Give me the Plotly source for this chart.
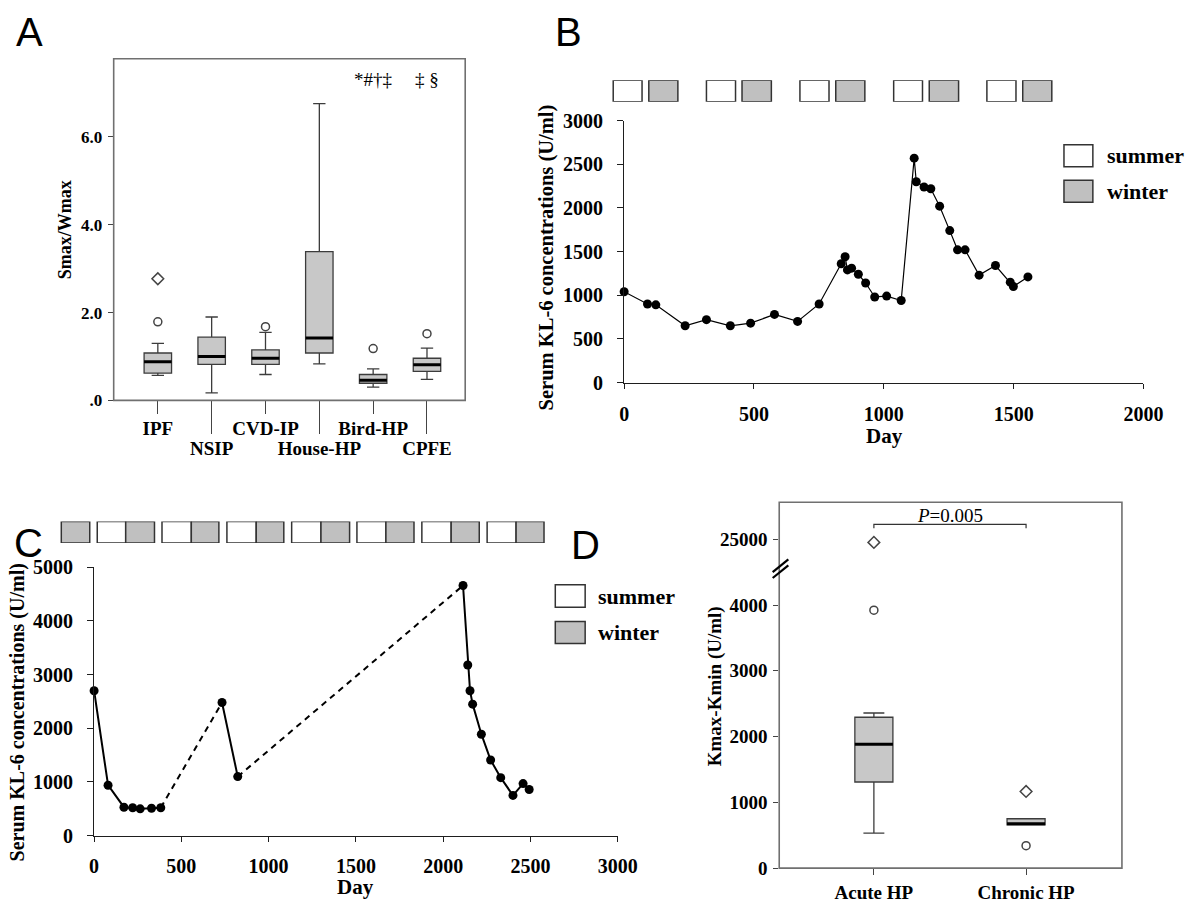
import plotly.graph_objects as go

W, H = 1200, 914
SERIF = "Liberation Serif, Times New Roman, serif"
SANS = "Liberation Sans, Arial, sans-serif"

# ---------------- Panel A data ----------------
A_groups = ["IPF", "NSIP", "CVD-IP", "House-HP", "Bird-HP", "CPFE"]
A_lower = [0.57, 0.17, 0.59, 0.83, 0.30, 0.48]
A_q1 = [0.62, 0.82, 0.82, 1.08, 0.39, 0.66]
A_median = [0.88, 1.00, 0.96, 1.42, 0.46, 0.81]
A_q3 = [1.08, 1.44, 1.15, 3.39, 0.59, 0.96]
A_upper = [1.30, 1.90, 1.55, 6.76, 0.72, 1.19]
A_circle_groups = ["IPF", "CVD-IP", "Bird-HP", "CPFE"]
A_circle_values = [1.79, 1.68, 1.18, 1.52]
A_diamond_groups = ["IPF"]
A_diamond_values = [2.77]
A_sig_groups = ["Bird-HP", "CPFE"]
A_sig_text = ["*#†‡", "‡ §"]
A_ytick_vals = [0, 2, 4, 6]
A_ytick_text = [".0", "2.0", "4.0", "6.0"]

# ---------------- Panel B data ----------------
B_day = [0, 90, 122, 235, 317, 409, 487, 579, 668, 751, 836, 851, 860, 876, 902,
         930, 965, 1011, 1067, 1117, 1125, 1155, 1181, 1215, 1254, 1284, 1313,
         1367, 1430, 1487, 1499, 1555]
B_kl6 = [1040, 900, 890, 650, 720, 650, 680, 780, 700, 900, 1360, 1440, 1290, 1310,
         1240, 1140, 980, 990, 940, 2570, 2300, 2240, 2220, 2020, 1740, 1520, 1520,
         1230, 1340, 1150, 1100, 1210]
B_summer_start = [-42, 317, 677, 1038, 1397]
B_summer_end = [69, 429, 789, 1149, 1509]
B_winter_start = [95, 454, 815, 1175, 1535]
B_winter_end = [207, 567, 927, 1288, 1647]
B_xticks = [0, 500, 1000, 1500, 2000]
B_yticks = [0, 500, 1000, 1500, 2000, 2500, 3000]

# ---------------- Panel C data ----------------
C_day = [0, 80, 171, 221, 264, 329, 382, 733, 823, 2114, 2141, 2154, 2169, 2219,
         2272, 2330, 2400, 2458, 2493]
C_kl6 = [2700, 940, 530, 520, 500, 510, 520, 2480, 1100, 4660, 3180, 2700, 2450,
         1890, 1410, 1080, 750, 970, 860]
C_period = [1, 1, 1, 1, 1, 1, 1, 2, 2, 3, 3, 3, 3, 3, 3, 3, 3, 3, 3]
C_summer_start = [18, 389, 761, 1132, 1506, 1878, 2252]
C_summer_end = [181, 557, 929, 1300, 1672, 2046, 2418]
C_winter_start = [-188, 181, 557, 929, 1300, 1672, 2046, 2418]
C_winter_end = [-25, 346, 715, 1087, 1464, 1833, 2207, 2578]
C_xticks = [0, 500, 1000, 1500, 2000, 2500, 3000]
C_yticks = [0, 1000, 2000, 3000, 4000, 5000]

# ---------------- Panel D data ----------------
D_groups = ["Acute HP", "Chronic HP"]
D_lower = [534, 657]
D_q1 = [1310, 657]
D_median = [1884, 677]
D_q3 = [2294, 751]
D_upper = [2359, 751]
D_circle_groups = ["Acute HP", "Chronic HP"]
D_circle_values = [3921, 341]
D_diamond_groups = ["Acute HP", "Chronic HP"]
D_diamond_values = [24950, 1166]
D_lower_ticks = [0, 1000, 2000, 3000, 4000]
D_upper_ticks = [25000]
D_p_text = "<i>P</i>=0.005"


def fx(p):
    return p / W


def fy(p):
    return 1 - p / H


BOX_FILL = "#c8c8c8"
BOX_LINE = "#3c3c3c"
FRAME = "#707070"
AXIS = "#1e1e1e"

fig = go.Figure()

# ======== Panel A ========
A_pos = list(range(len(A_groups)))
A_w = 0.51
fig.add_trace(go.Box(x=A_pos, q1=A_q1, median=A_median, q3=A_q3,
                     lowerfence=A_lower, upperfence=A_upper, orientation="v",
                     width=A_w, whiskerwidth=0.45, fillcolor=BOX_FILL,
                     line=dict(color=BOX_LINE, width=1.3), boxpoints=False,
                     xaxis="x", yaxis="y", showlegend=False, hoverinfo="skip"))
mx, my = [], []
for i, m in zip(A_pos, A_median):
    mx += [i - A_w / 2, i + A_w / 2, None]
    my += [m, m, None]
fig.add_trace(go.Scatter(x=mx, y=my, mode="lines", line=dict(color="black", width=3),
                         xaxis="x", yaxis="y", showlegend=False, hoverinfo="skip"))
# invisible carrier so the second (staggered) category axis is drawn
fig.add_trace(go.Scatter(x=A_pos[1::2], y=A_median[1::2], mode="markers",
                         marker=dict(opacity=0), xaxis="x5", yaxis="y",
                         showlegend=False, hoverinfo="skip"))
fig.add_trace(go.Scatter(x=[A_groups.index(g) for g in A_circle_groups], y=A_circle_values,
                         mode="markers", marker=dict(symbol="circle-open", size=8,
                                                     line=dict(color="#444", width=1.5), color="#444"),
                         xaxis="x", yaxis="y", showlegend=False, hoverinfo="skip"))
fig.add_trace(go.Scatter(x=[A_groups.index(g) for g in A_diamond_groups], y=A_diamond_values,
                         mode="markers", marker=dict(symbol="diamond-open", size=9,
                                                     line=dict(color="#444", width=1.5), color="#444"),
                         xaxis="x", yaxis="y", showlegend=False, hoverinfo="skip"))

# ======== Panel B ========
for starts, ends, col in [(B_summer_start, B_summer_end, "white"),
                          (B_winter_start, B_winter_end, "#c0c0c0")]:
    fig.add_trace(go.Bar(y=[0.5] * len(starts), x=[e - s for s, e in zip(starts, ends)],
                         base=starts, orientation="h", width=1,
                         marker=dict(color=col, line=dict(color="#333", width=1.5)),
                         xaxis="x7", yaxis="y7", showlegend=False, hoverinfo="skip"))
fig.add_trace(go.Scatter(x=B_day, y=B_kl6, mode="lines+markers",
                         line=dict(color="black", width=1.2),
                         marker=dict(color="black", size=9), cliponaxis=False,
                         xaxis="x2", yaxis="y2", showlegend=False, hoverinfo="skip"))

# ======== Panel C ========
for starts, ends, col in [(C_summer_start, C_summer_end, "white"),
                          (C_winter_start, C_winter_end, "#c0c0c0")]:
    fig.add_trace(go.Bar(y=[0.5] * len(starts), x=[e - s for s, e in zip(starts, ends)],
                         base=starts, orientation="h", width=1,
                         marker=dict(color=col, line=dict(color="#333", width=1.5)),
                         xaxis="x6", yaxis="y6", showlegend=False, hoverinfo="skip"))
periods = sorted(set(C_period))
for k, p in enumerate(periods):
    xs = [d for d, q in zip(C_day, C_period) if q == p]
    ys = [v for v, q in zip(C_kl6, C_period) if q == p]
    if k + 1 < len(periods):
        idx = C_period.index(periods[k + 1])
        fig.add_trace(go.Scatter(x=[xs[-1], C_day[idx]], y=[ys[-1], C_kl6[idx]], mode="lines",
                                 line=dict(color="black", width=2, dash="6px,5px"),
                                 xaxis="x3", yaxis="y3", showlegend=False, hoverinfo="skip"))
    fig.add_trace(go.Scatter(x=xs, y=ys, mode="lines+markers",
                             line=dict(color="black", width=2),
                             marker=dict(color="black", size=9), cliponaxis=False,
                             xaxis="x3", yaxis="y3", showlegend=False, hoverinfo="skip"))

# ======== Panel D ========
D_break = 4559
D_pos = list(range(len(D_groups)))
D_w = 0.25
fig.add_trace(go.Box(x=D_pos, q1=D_q1, median=D_median, q3=D_q3,
                     lowerfence=D_lower, upperfence=D_upper, orientation="v",
                     width=D_w, whiskerwidth=0.55, fillcolor=BOX_FILL,
                     line=dict(color=BOX_LINE, width=1.3), boxpoints=False,
                     xaxis="x4", yaxis="y4", showlegend=False, hoverinfo="skip"))
mx, my = [], []
for i, m in zip(D_pos, D_median):
    mx += [i - D_w / 2, i + D_w / 2, None]
    my += [m, m, None]
fig.add_trace(go.Scatter(x=mx, y=my, mode="lines", line=dict(color="black", width=3),
                         xaxis="x4", yaxis="y4", showlegend=False, hoverinfo="skip"))
for groups, vals, sym, sz in [(D_circle_groups, D_circle_values, "circle-open", 8),
                              (D_diamond_groups, D_diamond_values, "diamond-open", 9)]:
    lo = [(D_groups.index(g), v) for g, v in zip(groups, vals) if v <= D_break]
    hi = [(D_groups.index(g), v) for g, v in zip(groups, vals) if v > D_break]
    for pts, ya in [(lo, "y4"), (hi, "y5")]:
        if pts:
            fig.add_trace(go.Scatter(x=[p[0] for p in pts], y=[p[1] for p in pts], mode="markers",
                                     marker=dict(symbol=sym, size=sz, color="#444",
                                                 line=dict(color="#444", width=1.5)),
                                     cliponaxis=False,
                                     xaxis="x4", yaxis=ya, showlegend=False, hoverinfo="skip"))


# ---------------- axes ----------------
def tick_font(s):
    return dict(family=SERIF, size=s, color="black", weight="bold")


noline = dict(showgrid=False, zeroline=False)

A_range = [-0.82, 5.71]
B_dom = [632.3, 1162.7]
B_range = [0, 2000]
C_dom = [91, 625.7]
C_range = [0, 3000]
B_strip_left = 590
C_strip_left = 40
B_strip_r0 = B_range[1] - (B_range[1] - B_range[0]) * (B_dom[1] - B_strip_left) / (B_dom[1] - B_dom[0])
C_strip_r0 = C_range[1] - (C_range[1] - C_range[0]) * (C_dom[1] - C_strip_left) / (C_dom[1] - C_dom[0])

fig.update_layout(
    width=W, height=H, margin=dict(l=0, r=0, t=0, b=0),
    paper_bgcolor="white", plot_bgcolor="rgba(0,0,0,0)", barmode="overlay",
    showlegend=False,
    # Panel A
    xaxis=dict(domain=[fx(111), fx(470)], range=A_range, anchor="y",
               tickvals=A_pos[0::2], ticktext=A_groups[0::2], ticks="outside", ticklen=13,
               tickcolor="#444", tickwidth=1.2, tickfont=tick_font(19), showline=False,
               ticklabelstandoff=-2, **noline),
    xaxis5=dict(overlaying="x", range=A_range, anchor="y", side="bottom",
                tickvals=A_pos[1::2], ticktext=A_groups[1::2], ticks="outside", ticklen=33,
                tickcolor="#444", tickwidth=1.2, tickfont=tick_font(19), showline=False,
                ticklabelstandoff=-2, **noline),
    yaxis=dict(domain=[fy(399), fy(49)], range=[0, 7.78], anchor="x",
               tickvals=A_ytick_vals, ticktext=A_ytick_text, ticks="outside", ticklen=5,
               tickcolor="#444", tickfont=tick_font(17), showline=False, ticklabelstandoff=2, **noline),
    # Panel B
    xaxis2=dict(domain=[fx(B_dom[0]), fx(B_dom[1])], range=B_range, anchor="y2",
                tickvals=B_xticks, ticks="outside", ticklen=5, tickcolor=AXIS,
                showline=True, linecolor=AXIS, linewidth=1.3, tickfont=tick_font(20),
                ticklabelstandoff=8, **noline),
    yaxis2=dict(domain=[fy(380.7), fy(112.3)], range=[0, 3000], anchor="x2",
                tickvals=B_yticks, ticks="outside", ticklen=6, tickcolor=AXIS,
                showline=True, linecolor=AXIS, linewidth=1.3, tickfont=tick_font(20),
                ticklabelstandoff=10, **noline),
    xaxis7=dict(domain=[fx(B_strip_left), fx(B_dom[1])], range=[B_strip_r0, B_range[1]],
                anchor="y7", visible=False, **noline),
    yaxis7=dict(domain=[fy(93), fy(71)], range=[0, 1], anchor="x7", visible=False, **noline),
    # Panel C
    xaxis3=dict(domain=[fx(C_dom[0]), fx(C_dom[1])], range=C_range, anchor="y3",
                tickvals=C_xticks, ticks="outside", ticklen=5, tickcolor=AXIS,
                showline=True, linecolor=AXIS, linewidth=1.3, tickfont=tick_font(20),
                ticklabelstandoff=7, **noline),
    yaxis3=dict(domain=[fy(845), fy(570)], range=[0, 5000], anchor="x3",
                tickvals=C_yticks, ticks="outside", ticklen=6, tickcolor=AXIS,
                showline=True, linecolor=AXIS, linewidth=1.3, tickfont=tick_font(20),
                ticklabelstandoff=10, **noline),
    xaxis6=dict(domain=[fx(C_strip_left), fx(C_dom[1])], range=[C_strip_r0, C_range[1]],
                anchor="y6", visible=False, **noline),
    yaxis6=dict(domain=[fy(545), fy(523)], range=[0, 1], anchor="x6", visible=False, **noline),
    # Panel D
    xaxis4=dict(domain=[fx(790.7), fx(1140.7)], range=[-0.622, 1.63], anchor="y4",
                tickvals=D_pos, ticktext=D_groups, ticks="outside", ticklen=6,
                tickcolor="#444", tickwidth=1.2, tickfont=tick_font(19), showline=False,
                ticklabelstandoff=1, **noline),
    yaxis4=dict(domain=[fy(878.3), fy(571)], range=[0, D_break], anchor="x4",
                tickvals=D_lower_ticks, ticks="outside", ticklen=5, tickcolor="#444",
                tickfont=tick_font(19), showline=False, ticklabelstandoff=2, **noline),
    yaxis5=dict(domain=[fy(571), fy(503.3)], range=[24555, 25564], anchor="x4",
                tickvals=D_upper_ticks, tickformat="d", ticks="outside", ticklen=5,
                tickcolor="#444", tickfont=tick_font(19), showline=False,
                ticklabelstandoff=2, **noline),
)

shapes = []
# Frames for A and D
shapes.append(dict(type="rect", xref="paper", yref="paper", x0=fx(111), x1=fx(470),
                   y0=fy(399), y1=fy(49), line=dict(color=FRAME, width=1.6), layer="above"))
shapes.append(dict(type="rect", xref="paper", yref="paper", x0=fx(790.7), x1=fx(1140.7),
                   y0=fy(878.3), y1=fy(503.3), line=dict(color=FRAME, width=1.6), layer="above"))
# axis break marks in D
for dy in (0, 6):
    shapes.append(dict(type="line", xref="paper", yref="paper", x0=fx(784), y0=fy(575 + dy),
                       x1=fx(800), y1=fy(562 + dy), line=dict(color="black", width=2.2)))
# P-value bracket in D
y_line, y_tick = fy(526), fy(530)
shapes.append(dict(type="path", xref="x4", yref="paper",
                   path=f"M {D_pos[0]},{y_tick} L {D_pos[0]},{y_line} L {D_pos[1]},{y_line} L {D_pos[1]},{y_tick}",
                   line=dict(color="#333", width=1.2)))
# season legends (B and C)
for (lx0, lx1, ys) in [(1081.5, 1111, [(137, 159.5), (173.5, 196)]),
                       (562, 592.5, [(588, 611), (625.5, 648)])]:
    for (y0, y1), col in zip(ys, ["white", "#c0c0c0"]):
        shapes.append(dict(type="rect", xref="paper", yref="paper", x0=fx(lx0), x1=fx(lx1),
                           y0=fy(y1), y1=fy(y0), fillcolor=col, line=dict(color="#333", width=1.5)))
fig.update_layout(shapes=shapes)

ann = []


def txt(x, y, text, size, weight="bold", family=SERIF, angle=0, xanchor="center", xref="paper"):
    ann.append(dict(x=x, y=y, xref=xref, yref="paper", text=text, showarrow=False,
                    textangle=angle, xanchor=xanchor, yanchor="middle",
                    font=dict(family=family, size=size, color="black", weight=weight)))


# panel letters
txt(fx(25), fy(22), "A", 40, weight="normal", family=SANS)
txt(fx(575), fy(22), "B", 40, weight="normal", family=SANS)
txt(fx(24), fy(545), "C", 40, weight="normal", family=SANS)
txt(fx(593), fy(547), "D", 40, weight="normal", family=SANS)
# axis titles
txt(fx(61), fy(224), "Smax/Wmax", 18, angle=-90)
txt(fx(553), fy(252), "Serum KL-6 concentrations (U/ml)", 20.5, angle=-90)
txt(fx(898), fy(435), "Day", 21)
txt(fx(13), fy(719), "Serum KL-6 concentrations (U/ml)", 20, angle=-90)
txt(fx(358), fy(898), "Day", 21)
txt(fx(725), fy(692), "Kmax-Kmin (U/ml)", 19, angle=-90)
# significance marks in A
for g, t in zip(A_sig_groups, A_sig_text):
    txt(A_groups.index(g), fy(70), t, 19, weight="normal", xref="x")
# P value in D
txt((D_pos[0] + D_pos[1]) / 2, fy(517), D_p_text, 19, weight="normal", xref="x4")
# legends
for lx, ys in [(1123, [148, 185]), (604, [600, 637])]:
    for y, t in zip(ys, ["summer", "winter"]):
        txt(fx(lx), fy(y), t, 22, xanchor="left")
fig.update_layout(annotations=ann)

fig.write_html("out.html", config={"displayModeBar": False},
               post_script="document.body.style.margin='0';")
